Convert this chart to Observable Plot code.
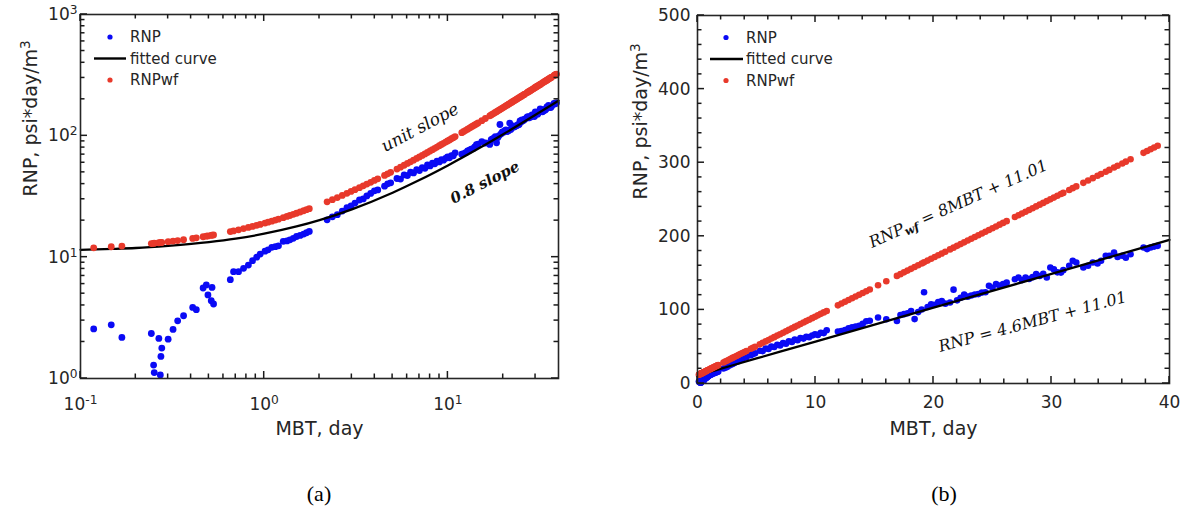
<!DOCTYPE html>
<html><head><meta charset="utf-8">
<script src="https://cdn.jsdelivr.net/npm/d3@7"></script>
<script src="https://cdn.jsdelivr.net/npm/@observablehq/plot@0.6"></script>
<style>
body{margin:0;background:#fff;}
#wrap{position:relative;width:1185px;height:512px;overflow:hidden;background:#fff;}
.panel{position:absolute;top:0;}
.cap{position:absolute;top:480px;font-family:"Liberation Serif",serif;font-size:22px;color:#000;transform:translateX(-50%);line-height:28px;}
</style></head><body>
<div id="wrap"></div>
<script>
// ---------- data ----------
const mbt = [
 0.118,0.147,0.168,0.243,0.250,0.252,0.267,0.272,0.274,0.277,0.300,0.319,0.338,0.364,0.408,0.427,0.465,0.484,0.494,0.515,0.520,0.530,
 0.654,0.681,0.725,0.772,0.820,0.864,0.910,0.951,1.01,1.05,1.10,1.15,1.196,1.27,1.33,1.38,1.44,1.50,1.57,1.64,1.70,1.76,
 2.20,2.35,2.50,2.66,2.82,2.97,3.12,3.30,3.46,3.62,3.80,3.98,4.15,
 4.52,4.70,4.88,
 5.28,5.52,5.78,6.02,6.26,6.50,6.76,7.00,7.25,7.50,7.74,8.00,8.24,8.48,8.72,8.98,9.22,9.46,9.72,9.96,10.20,10.45,10.70,10.95,
 11.9,12.2,12.5,12.8,13.1,13.4,13.7,14.0,14.3,14.6,15.3,16.0,16.9,17.2,17.5,17.8,18.1,18.4,18.7,19.0,19.2,19.5,19.8,20.1,20.4,20.7,21.0,
 21.4,21.7,22.0,22.3,22.6,22.9,23.2,23.5,23.8,24.1,24.4,24.7,25.0,25.3,25.6,25.9,26.2,
 26.9,27.2,27.5,27.8,28.1,28.4,28.7,29.0,29.3,29.6,29.9,30.2,30.5,30.8,31.0,
 31.5,31.8,32.1,
 32.7,33.1,33.5,33.9,
 34.2,34.6,
 34.9,35.3,35.6,36.0,36.3,36.7,
 37.8,38.1,38.4,38.7,39.0
];
const rnp = [
 2.56,2.77,2.18,2.35,1.29,1.12,2.14,1.07,1.52,1.78,2.11,2.54,2.99,3.29,3.85,3.69,5.57,5.90,4.88,4.38,5.63,4.11,
 6.52,7.60,7.60,8.09,8.60,9.36,10.0,10.6,11.2,11.5,12.05,12.2,12.4,13.5,13.6,13.9,14.3,14.8,15.1,15.5,15.9,16.3,
 20.3,21.5,22.4,24.0,25.6,26.5,27.9,29.6,30.2,32.0,33.5,35.2,35.8,
 38.5,40.2,41.0,
 44.5,44.0,47.6,47.0,50.1,49.5,52.6,51.8,54.8,54.0,57.5,56.5,59.6,58.8,61.8,61.0,63.6,63.0,65.3,67.0,66.0,68.8,68.5,72.4,
 70.5,71.4,72.6,75.0,76.2,77.5,78.3,81.0,84.5,85.2,89.6,87.3,85.0,93.0,94.2,95.5,98.6,87.5,97.0,100.5,124.0,104.0,107.7,107.0,110.5,112.0,108.5,
 110.0,127.5,113.0,116.5,121.0,118.0,119.5,121.0,121.5,123.5,124.0,132.7,130.0,135.0,133.0,135.0,137.0,
 141.7,144.0,140.5,144.0,142.0,144.5,148.6,146.0,149.0,144.0,157.6,155.0,151.0,150.7,154.0,
 160.0,166.7,164.4,
 157.6,160.0,164.4,163.0,
 166.7,173.5,
 173.5,178.0,172.0,173.5,171.0,175.7,
 184.8,182.6,184.8,186.0,187.0
];
const rnpWf = [
 11.95,12.19,12.35,12.95,13.01,13.03,13.15,13.19,13.20,13.23,13.41,13.56,13.71,13.92,14.27,14.43,14.73,14.88,14.96,15.13,15.17,15.25,
 16.24,16.46,16.81,17.19,17.57,17.92,18.29,18.62,19.09,19.41,19.81,20.21,20.58,21.17,21.65,22.05,22.53,23.01,23.57,24.13,24.61,25.09,
 28.6,29.8,31.0,32.3,33.6,34.8,36.0,37.4,38.7,40.0,41.4,42.9,44.2,
 47.2,48.6,50.0,
 53.2,55.2,57.2,59.2,61.1,63.0,65.1,67.0,69.0,71.0,72.9,75.0,76.9,78.9,80.8,82.9,84.8,86.7,88.8,90.7,92.6,94.6,96.6,98.6,
 106.2,108.6,111.0,113.4,115.8,118.2,120.6,123.0,125.4,127.8,133.4,139.0,146.2,148.6,151.0,153.4,155.8,158.2,160.6,163.0,164.6,167.0,169.4,171.8,174.2,176.6,179.0,
 182.2,184.6,187.0,189.4,191.8,194.2,196.6,199.0,201.4,203.8,206.2,208.6,211.0,213.4,215.8,218.2,220.6,
 226.2,228.6,231.0,233.4,235.8,238.2,240.6,243.0,245.4,247.8,250.2,252.6,255.0,257.4,259.0,
 263.0,265.4,267.8,
 272.6,275.8,279.0,282.2,
 284.6,287.8,
 290.2,293.4,295.8,299.0,301.4,304.6,
 313.4,315.8,318.2,320.6,323.0
];
const fitMBT = [0,0.1,0.15,0.2,0.3,0.5,0.7,1,1.5,2,3,5,7,10,15,20,30,40];
const fitRNP = [11.0,11.5,11.7,11.9,12.4,13.3,14.2,15.6,17.9,20.2,24.8,34.0,43.2,57.0,80.0,103.0,149.0,195.0];

// ticks
const logXMajor = [0.1, 1, 10];
const logXMinor = [0.2,0.3,0.4,0.5,0.6,0.7,0.8,0.9,2,3,4,5,6,7,8,9,20,30];
const logYMajor = [1, 10, 100, 1000];
const logYMinor = [2,3,4,5,6,7,8,9,20,30,40,50,60,70,80,90,200,300,400,500,600,700,800,900];
const linXMajor = [0,10,20,30,40];
const linXMinor = [2,4,6,8,12,14,16,18,22,24,26,28,32,34,36,38];
const linYMajor = [0,100,200,300,400,500];
const linYMinor = [20,40,60,80,120,140,160,180,220,240,260,280,320,340,360,380,420,440,460,480];

// labels / annotations
const legendLabels = ["RNP", "fitted curve", "RNPwf"];
const xTitle = "MBT, day";
const yTitle = "RNP, psi*day/m^{3}";
const annA = [{label: "unit slope", x: 7.05, y: 117, angle: -28}];
const annABold = [{label: "0.8 slope", x: 15.9, y: 41.2, angle: -27}];
const annB = [
  {label: "RNP_{wf} = 8MBT + 11.01", x: 22.1, y: 244, angle: -24},
  {label: "RNP = 4.6MBT + 11.01", x: 28.4, y: 83.7, angle: -15}
];

// ---------- styling ----------
const BLUE = "#0a0af5", RED = "#e8392b", INK = "#262626";
const rows = mbt.map((m, i) => ({mbt: m, rnp: rnp[i], wf: rnpWf[i]}));
const fit = fitMBT.map((m, i) => ({mbt: m, rnp: fitRNP[i]}));

// inward ticks on all four sides, placed through the plot's own scales (render-function mark)
function boxTicks(xs, ys, len) {
  return function (index, scales, values, dims) {
    const g = d3.create("svg:g").attr("stroke", "#1a1a1a").attr("stroke-width", 1.5).attr("fill", "none");
    const l = dims.marginLeft, r = dims.width - dims.marginRight;
    const t = dims.marginTop, b = dims.height - dims.marginBottom;
    for (const v of xs) {
      const X = scales.x(v);
      g.append("line").attr("x1", X).attr("x2", X).attr("y1", b).attr("y2", b - len);
      g.append("line").attr("x1", X).attr("x2", X).attr("y1", t).attr("y2", t + len);
    }
    for (const v of ys) {
      const Y = scales.y(v);
      g.append("line").attr("y1", Y).attr("y2", Y).attr("x1", l).attr("x2", l + len);
      g.append("line").attr("y1", Y).attr("y2", Y).attr("x1", r).attr("x2", r - len);
    }
    return g.node();
  };
}

function legendMark(pos) {
  return function (index, scales, values, dims) {
    const g = d3.create("svg:g");
    const ox = dims.marginLeft, oy = dims.marginTop;
    g.append("circle").attr("cx", ox + pos.dot).attr("cy", oy + pos.rows[0]).attr("r", 2.6).attr("fill", BLUE);
    g.append("line").attr("x1", ox + pos.l1).attr("x2", ox + pos.l2)
      .attr("y1", oy + pos.rows[1]).attr("y2", oy + pos.rows[1]).attr("stroke", "#000").attr("stroke-width", 2.4);
    g.append("circle").attr("cx", ox + pos.dot).attr("cy", oy + pos.rows[2]).attr("r", 2.6).attr("fill", RED);
    legendLabels.forEach((t, i) => {
      g.append("text").attr("x", ox + pos.tx).attr("y", oy + pos.rows[i]).attr("dy", "0.35em")
        .attr("text-anchor", "start")
        .attr("font-family", "DejaVu Sans").attr("font-size", 15).attr("fill", INK).text(t);
    });
    return g.node();
  };
}

function rich(svg) {
  const ns = "http://www.w3.org/2000/svg";
  svg.querySelectorAll("text").forEach(el => {
    const targets = el.querySelector("tspan") ? Array.from(el.querySelectorAll("tspan")) : [el];
    targets.forEach(t => {
      const s = t.textContent;
      if (!/[\^_]\{/.test(s)) return;
      t.textContent = "";
      const re = /([\^_])\{([^}]*)\}/g;
      let last = 0, m;
      while ((m = re.exec(s))) {
        if (m.index > last) t.appendChild(document.createTextNode(s.slice(last, m.index)));
        const sp = document.createElementNS(ns, "tspan");
        sp.setAttribute("baseline-shift", m[1] === "^" ? "50%" : "-25%");
        sp.setAttribute("font-size", "72%");
        if (m[1] === "_") sp.setAttribute("font-weight", "bold");
        sp.textContent = m[2];
        t.appendChild(sp);
        last = re.lastIndex;
      }
      if (last < s.length) t.appendChild(document.createTextNode(s.slice(last)));
    });
  });
  return svg;
}

const baseStyle = {fontFamily: "DejaVu Sans", fontSize: "16px", color: INK, background: "transparent", overflow: "visible"};

// ---------- panel (a) ----------
const A = {w: 592, h: 450, ml: 80, mr: 34, mt: 14, mb: 72};
const expFmt = d => `10^{${Math.round(Math.log10(d))}}`;
const plotA = Plot.plot({
  width: A.w, height: A.h, marginLeft: A.ml, marginRight: A.mr, marginTop: A.mt, marginBottom: A.mb,
  style: baseStyle,
  x: {type: "log", domain: [0.1, 40], label: null},
  y: {type: "log", domain: [1, 1000], label: null},
  marks: [
    Plot.dot(rows, {x: "mbt", y: "rnp", r: 3.4, fill: BLUE}),
    Plot.line(fit.filter(d => d.mbt > 0), {x: "mbt", y: "rnp", stroke: "#000", strokeWidth: 2.3, curve: "monotone-x"}),
    Plot.dot(rows, {x: "mbt", y: "wf", r: 3.4, fill: RED}),
    Plot.frame({stroke: INK, strokeWidth: 1.6}),
    boxTicks(logXMajor, logYMajor, 7),
    boxTicks(logXMinor, logYMinor, 4.5),
    Plot.axisX({ticks: logXMajor, tickSize: 0, tickPadding: 19, tickFormat: expFmt, label: null, fontSize: 17}),
    Plot.axisY({ticks: logYMajor, tickSize: 0, tickPadding: 3, tickFormat: expFmt, label: null, fontSize: 17}),
    Plot.text([xTitle], {text: d => d, frameAnchor: "bottom", dy: 56, lineAnchor: "bottom", fontSize: 19, fill: INK}),
    Plot.text([yTitle], {text: d => d, frameAnchor: "left", dx: -50, rotate: -90, fontSize: 19, fill: INK}),
    Plot.text(annA, {x: "x", y: "y", text: "label", rotate: "angle", fontFamily: "DejaVu Serif", fontStyle: "italic", fontSize: 17, fill: "#111"}),
    Plot.text(annABold, {x: "x", y: "y", text: "label", rotate: "angle", fontFamily: "DejaVu Serif", fontStyle: "italic", fontWeight: "bold", fontSize: 15, fill: "#111"}),
    legendMark({dot: 30, tx: 50, l1: 14, l2: 46, rows: [23, 44.5, 66]})
  ]
});

// ---------- panel (b) ----------
const B = {w: 593, h: 450, ml: 105, mr: 16, mt: 15, mb: 67};
const plotB = Plot.plot({
  width: B.w, height: B.h, marginLeft: B.ml, marginRight: B.mr, marginTop: B.mt, marginBottom: B.mb,
  style: baseStyle,
  x: {domain: [0, 40], label: null},
  y: {domain: [0, 500], label: null},
  marks: [
    Plot.dot(rows, {x: "mbt", y: "rnp", r: 3.3, fill: BLUE}),
    Plot.line(fit, {x: "mbt", y: "rnp", stroke: "#000", strokeWidth: 2.3}),
    Plot.dot(rows, {x: "mbt", y: "wf", r: 3.3, fill: RED}),
    Plot.frame({stroke: INK, strokeWidth: 1.6}),
    boxTicks(linXMajor, linYMajor, 7),
    boxTicks(linXMinor, linYMinor, 4.5),
    Plot.axisX({ticks: linXMajor, tickSize: 0, tickPadding: 12, label: null, fontSize: 17}),
    Plot.axisY({ticks: linYMajor, tickSize: 0, tickPadding: 7, label: null, fontSize: 17}),
    Plot.text([xTitle], {text: d => d, frameAnchor: "bottom", dy: 51, lineAnchor: "bottom", fontSize: 19, fill: INK}),
    Plot.text([yTitle], {text: d => d, frameAnchor: "left", dx: -57, rotate: -90, fontSize: 19, fill: INK}),
    Plot.text(annB, {x: "x", y: "y", text: "label", rotate: "angle", fontFamily: "DejaVu Serif", fontStyle: "italic", fontSize: 16, fill: "#111"}),
    legendMark({dot: 29, tx: 49, l1: 13, l2: 46, rows: [22.5, 44, 65.5]})
  ]
});

const wrap = document.getElementById("wrap");
rich(plotA); rich(plotB);
plotA.classList.add("panel"); plotA.style.left = "0px";
plotB.classList.add("panel"); plotB.style.left = "592px";
wrap.appendChild(plotA);
wrap.appendChild(plotB);
[["(a)", 319], ["(b)", 944]].forEach(([t, x]) => {
  const d = document.createElement("div");
  d.className = "cap"; d.style.left = x + "px"; d.textContent = t;
  wrap.appendChild(d);
});
</script>
</body></html>
